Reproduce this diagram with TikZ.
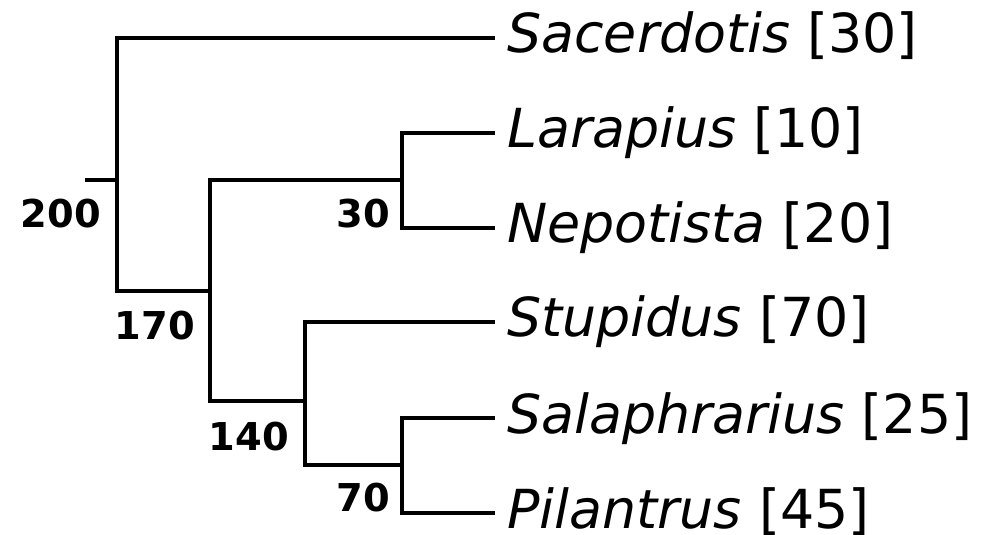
\documentclass[tikz,border=0pt]{standalone}
\usepackage{fontspec}
\setmainfont{DejaVu Sans}
\begin{document}
\begin{tikzpicture}[x=1bp,y=-1bp,
  branch/.style={line width=3.3bp,line join=miter,line cap=butt},
  leaf/.style={anchor=base west,inner sep=0pt,font=\fontsize{54}{58}\selectfont},
  age/.style={anchor=base east,inner sep=0pt,font=\bfseries\fontsize{38.5}{40}\selectfont}]
\useasboundingbox (0,0) rectangle (989,535);
% junctions
\coordinate (stub) at (85,180);
\coordinate (j200) at (117,180);
\coordinate (j170) at (210,291);
\coordinate (j30) at (402,180);
\coordinate (j140) at (305,401);
\coordinate (j70) at (402,465);
% tips
\coordinate (tSac) at (495,38);
\coordinate (tLar) at (495,133);
\coordinate (tNep) at (495,228);
\coordinate (tStu) at (495,322);
\coordinate (tSal) at (495,418);
\coordinate (tPil) at (495,513);
% branches
\draw[branch] (stub) -- (j200);
\draw[branch] (tSac) -| (j200) |- (j170);
\draw[branch] (j30) -| (j170) |- (j140);
\draw[branch] (tLar) -| (j30) |- (tNep);
\draw[branch] (tStu) -| (j140) |- (j70);
\draw[branch] (tSal) -| (j70) |- (tPil);
% leaf labels
\node[leaf] (lSac) at (507,53) {\textit{Sacerdotis} [30]};
\node[leaf] (lLar) at (507,148) {\textit{Larapius} [10]};
\node[leaf] (lNep) at (507,243) {\textit{Nepotista} [20]};
\node[leaf] (lStu) at (507,337) {\textit{Stupidus} [70]};
\node[leaf] (lSal) at (507,433) {\textit{Salaphrarius} [25]};
\node[leaf] (lPil) at (507,528) {\textit{Pilantrus} [45]};
% ages
\node[age] (a200) at (101,228) {200};
\node[age] (a30) at (390,228) {30};
\node[age] (a170) at (195,340) {170};
\node[age] (a140) at (289,450) {140};
\node[age] (a70) at (390,511) {70};
\end{tikzpicture}
\end{document}
